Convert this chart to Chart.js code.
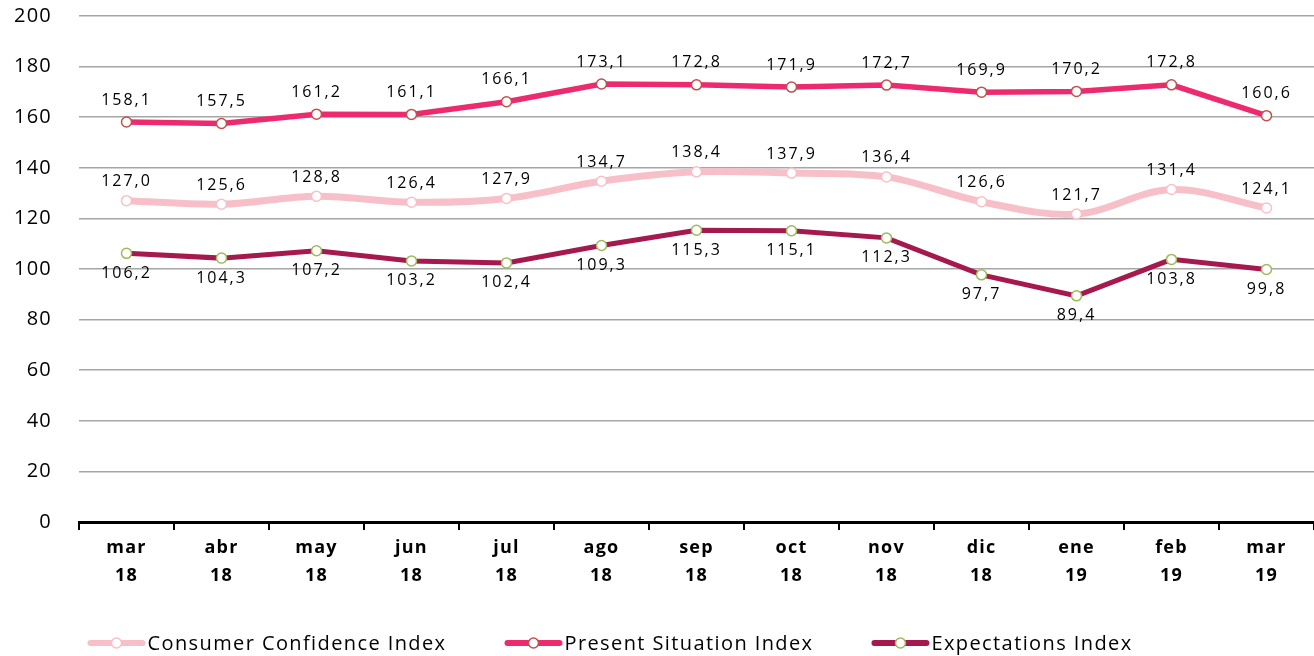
<!DOCTYPE html>
<html>
<head>
<meta charset="utf-8">
<script src="https://cdn.jsdelivr.net/npm/chart.js@4.4.1/dist/chart.umd.min.js"></script>
<style>
  html, body { margin: 0; padding: 0; background: #fff; }
  #wrap { width: 1314px; height: 656px; position: relative; }
</style>
</head>
<body>
<div id="wrap"><canvas id="ch"></canvas></div>
<script>
const months = [["mar","18"],["abr","18"],["may","18"],["jun","18"],["jul","18"],["ago","18"],["sep","18"],["oct","18"],["nov","18"],["dic","18"],["ene","19"],["feb","19"],["mar","19"]];
const consumerConfidence = [127.0, 125.6, 128.8, 126.4, 127.9, 134.7, 138.4, 137.9, 136.4, 126.6, 121.7, 131.4, 124.1];
const presentSituation = [158.1, 157.5, 161.2, 161.1, 166.1, 173.1, 172.8, 171.9, 172.7, 169.9, 170.2, 172.8, 160.6];
const expectations = [106.2, 104.3, 107.2, 103.2, 102.4, 109.3, 115.3, 115.1, 112.3, 97.7, 89.4, 103.8, 99.8];
const yTicks = [0, 20, 40, 60, 80, 100, 120, 140, 160, 180, 200];

const FONT = "'Open Sans', 'DejaVu Sans', sans-serif";

// Excel-ish wide text: apply letter spacing before measuring and drawing
const spacing = {
  id: "spacing",
  beforeLayout(chart) { chart.ctx.letterSpacing = "1.2px"; },
  beforeDraw(chart) { chart.ctx.letterSpacing = "1.2px"; }
};

// value labels next to each point, comma decimal
const valueLabels = {
  id: "valueLabels",
  afterDatasetsDraw(chart) {
    const ctx = chart.ctx;
    ctx.save();
    ctx.letterSpacing = "2px";
    ctx.font = "16px " + FONT;
    ctx.fillStyle = "#000";
    ctx.textAlign = "center";
    ctx.textBaseline = "middle";
    chart.data.datasets.forEach((ds, i) => {
      const meta = chart.getDatasetMeta(i);
      meta.data.forEach((pt, j) => {
        const txt = ds.data[j].toFixed(1).replace(".", ",");
        ctx.fillText(txt, pt.x, pt.y + ds.labelOffset);
      });
    });
    ctx.restore();
  }
};

// legend: thick line with a hollow marker, then the name
const lineLegend = {
  id: "lineLegend",
  afterDraw(chart) {
    const ctx = chart.ctx;
    const y = 643, iconW = 58, gap = 2, itemGap = 58;
    ctx.save();
    ctx.letterSpacing = "1.4px";
    ctx.font = "20px " + FONT;
    ctx.textBaseline = "middle";
    ctx.textAlign = "left";
    const items = chart.data.datasets.map(ds => ({ ds, w: ctx.measureText(ds.label).width }));
    const total = items.reduce((s, it) => s + iconW + gap + it.w, 0) + itemGap * (items.length - 1);
    let x = 610 - total / 2;
    items.forEach(it => {
      const ds = it.ds;
      ctx.strokeStyle = ds.borderColor;
      ctx.lineWidth = 6;
      ctx.lineCap = "round";
      ctx.beginPath(); ctx.moveTo(x + 3, y); ctx.lineTo(x + iconW - 3, y); ctx.stroke();
      ctx.fillStyle = "#fff";
      ctx.strokeStyle = ds.pointBorderColor;
      ctx.lineWidth = 1.5;
      ctx.beginPath(); ctx.arc(x + iconW / 2, y, 5, 0, Math.PI * 2); ctx.fill(); ctx.stroke();
      ctx.fillStyle = "#000";
      ctx.fillText(ds.label, x + iconW + gap, y + 1);
      x += iconW + gap + it.w + itemGap;
    });
    ctx.restore();
  }
};

new Chart(document.getElementById("ch"), {
  type: "line",
  data: {
    labels: months,
    datasets: [
      {
        label: "Consumer Confidence Index",
        data: consumerConfidence,
        borderColor: "#F7C0C9",
        borderWidth: 7,
        tension: 0.35,
        pointRadius: 5,
        pointBackgroundColor: "#fff",
        pointBorderColor: "#F7C0C9",
        pointBorderWidth: 1.5,
        labelOffset: -19
      },
      {
        label: "Present Situation Index",
        data: presentSituation,
        borderColor: "#EE2A6F",
        borderWidth: 5.5,
        tension: 0,
        pointRadius: 5,
        pointBackgroundColor: "#fff",
        pointBorderColor: "#C0504D",
        pointBorderWidth: 1.5,
        labelOffset: -22
      },
      {
        label: "Expectations Index",
        data: expectations,
        borderColor: "#A5194F",
        borderWidth: 5,
        tension: 0,
        pointRadius: 5,
        pointBackgroundColor: "#fff",
        pointBorderColor: "#9BBB59",
        pointBorderWidth: 1.5,
        labelOffset: 20
      }
    ]
  },
  options: {
    responsive: true,
    maintainAspectRatio: false,
    animation: false,
    layout: { autoPadding: false, padding: { top: 16, right: 0, left: 0, bottom: 50 } },
    plugins: {
      tooltip: { enabled: false },
      legend: { display: false }
    },
    scales: {
      x: {
        offset: true,
        grid: {
          offset: true,
          drawOnChartArea: false,
          drawTicks: true,
          tickLength: 8,
          color: "#000",
          lineWidth: 2
        },
        border: { color: "#000", width: 3 },
        ticks: {
          color: "#000",
          font: { family: FONT, size: 18, weight: "bold", lineHeight: 1.55 },
          maxRotation: 0,
          autoSkip: false,
          padding: 4
        },
        afterFit(axis) { axis.height = 84; axis.paddingLeft = 0; axis.paddingRight = 0; }
      },
      y: {
        min: 0,
        max: 200,
        afterBuildTicks(axis) { axis.ticks = yTicks.map(v => ({ value: v })); },
        grid: { color: "#A6A6A6", lineWidth: 1.5, drawTicks: false },
        border: { display: false },
        ticks: {
          color: "#000",
          font: { family: FONT, size: 20 },
          padding: 27
        },
        afterFit(axis) { axis.width = 79; axis.paddingTop = 0; axis.paddingBottom = 0; }
      }
    }
  },
  plugins: [spacing, valueLabels, lineLegend]
});
</script>
</body>
</html>
